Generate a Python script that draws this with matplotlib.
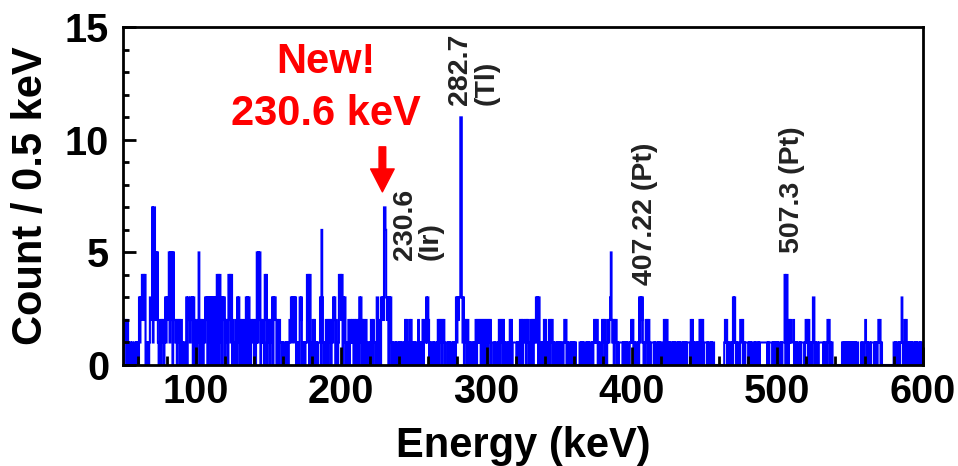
import numpy as np
import matplotlib
matplotlib.use('Agg')
import matplotlib.pyplot as plt
from matplotlib.ticker import MultipleLocator

# ---- data: counts per 0.5 keV bin, one hex digit per bin, 25 keV per segment ----
E_START = 50.0
BIN_WIDTH = 0.5
seg_050 = "20212021011010011010103132434240101013327177252510"
seg_075 = "12021202313235152505221202120220101103033213230320"
seg_100 = "10215020210213230313032303130424041303230212042414"
seg_125 = "02110203130210201203130310211202015152502121042402"
seg_150 = "12021303232021021101011010101213231323010103230101"
seg_175 = "01142404101202101011130631010212021202132302101434"
seg_200 = "24031301012012121020210203130202102011010210211013"
seg_225 = "30210323277632303130101101011010101101202101202101"
seg_250 = "01011021010120211313201011010110120212021201110101"
seg_275 = "01101010313233bb3130212021010110101202121202021202"
seg_300 = "12021201110101101202120201011010202011111010102120"
seg_325 = "21120212010212021231303101010212010120212010110101"
seg_350 = "01011012120101101010101000001010101110101011010121"
seg_375 = "21201011021202101212352120212010111110101010110112"
seg_400 = "12010110103132310102120210111101011010101110212021"
seg_425 = "01011010101101010110101010111102120101101012021201"
seg_450 = "11101011010110000000000000012120101101031310101102"
seg_475 = "21201011110101011101011010111111111101011110101010"
seg_500 = "10110101114044102121112010101101011110121202101013"
seg_525 = "30101101111110101102120101000000000000010101010101"
seg_550 = "01010101011000010110121010110111101010121201000000"
seg_575 = "00000000001010110101131012021010101011010101101010"

segments = [seg_050, seg_075, seg_100, seg_125, seg_150, seg_175, seg_200,
            seg_225, seg_250, seg_275, seg_300, seg_325, seg_350, seg_375,
            seg_400, seg_425, seg_450, seg_475, seg_500, seg_525, seg_550,
            seg_575]
counts = np.array([int(ch, 16) for s in segments for ch in s])
edges = E_START + BIN_WIDTH * np.arange(len(counts) + 1)

# peak annotations
peak_texts = ["230.6\n(Ir)", "282.7\n(Tl)", "407.22 (Pt)", "507.3 (Pt)"]
peak_text_e = [252.8, 291.0, 408.9, 509.9]
peak_text_c = [4.67, 11.56, 3.56, 4.98]

new_texts = ["New!", "230.6 keV"]
new_text_e = [189.6, 189.6]
new_text_c = [13.44, 11.16]
arrow_e = 228.4
arrow_from_c, arrow_to_c = 9.69, 7.69

xticks = [100, 200, 300, 400, 500, 600]
yticks = [0, 5, 10, 15]

FONT = ['Liberation Sans', 'DejaVu Sans']
plt.rcParams['font.family'] = FONT
plt.rcParams['font.weight'] = 'bold'

fig = plt.figure(figsize=(9.58, 4.66), dpi=100)
ax = fig.add_axes([123 / 958, 1 - 365 / 466, (922.7 - 123) / 958, (365 - 27.3) / 466])

ax.stairs(counts, edges, color='#0000ff', linewidth=1.5, fill=False,
          joinstyle='miter', capstyle='butt')

ax.set_xlim(50, 600)
ax.set_ylim(0, 15)
ax.set_xticks(xticks)
ax.set_yticks(yticks)
ax.xaxis.set_minor_locator(MultipleLocator(20))
ax.yaxis.set_minor_locator(MultipleLocator(1))
ax.set_axisbelow(False)
for sp in ax.spines.values():
    sp.set_linewidth(2.0)
    sp.set_zorder(3)
ax.tick_params(axis='x', which='major', direction='in', length=13, width=2,
               labelsize=28.5, pad=6, top=False)
ax.tick_params(axis='x', which='minor', direction='in', length=6.5, width=2, top=False)
ax.tick_params(axis='y', which='major', direction='in', length=9, width=2,
               labelsize=28.5, pad=10, right=False)
ax.tick_params(axis='y', which='minor', direction='in', length=4, width=2, right=False)
for lab in ax.get_xticklabels() + ax.get_yticklabels():
    lab.set_fontweight('bold')

ax.set_xlabel("Energy (keV)", fontsize=30, fontweight='bold', va='center')
ax.xaxis.set_label_coords(0.5, -0.239)
ax.set_ylabel("Count / 0.5 keV", fontsize=30, fontweight='bold', va='center')
ax.yaxis.set_label_coords(-0.115, 0.5)

for s, e, c in zip(peak_texts, peak_text_e, peak_text_c):
    ax.text(e, c, s, rotation=90, ha='center', va='bottom', fontsize=20.5,
            fontweight='bold', color='#222222', linespacing=1.0,
            multialignment='left')

for s, e, c in zip(new_texts, new_text_e, new_text_c):
    ax.text(e, c, s, ha='center', va='center', fontsize=30,
            fontweight='bold', color='#ff0000')

ax.annotate('', xy=(arrow_e, arrow_to_c), xytext=(arrow_e, arrow_from_c),
            arrowprops=dict(facecolor='#ff0000', edgecolor='#ff0000',
                            width=4.8, headwidth=17, headlength=16.5, shrink=0))

fig.savefig('out.png', dpi=100)
